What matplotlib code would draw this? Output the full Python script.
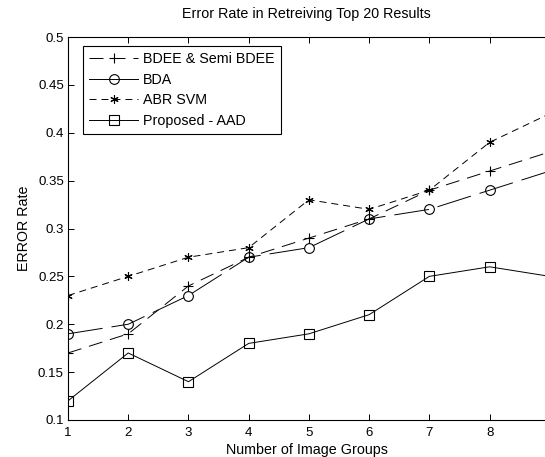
import matplotlib
matplotlib.use("Agg")
import matplotlib.pyplot as plt
from matplotlib.lines import Line2D

plt.rcParams['font.family'] = ['Liberation Sans', 'DejaVu Sans']

groups = [1, 2, 3, 4, 5, 6, 7, 8, 9]
bdee = [0.17, 0.19, 0.24, 0.27, 0.29, 0.31, 0.34, 0.36, 0.38]
bda = [0.19, 0.20, 0.23, 0.27, 0.28, 0.31, 0.32, 0.34, 0.36]
abr = [0.23, 0.25, 0.27, 0.28, 0.33, 0.32, 0.34, 0.39, 0.42]
aad = [0.12, 0.17, 0.14, 0.18, 0.19, 0.21, 0.25, 0.26, 0.25]
labels = ['BDEE & Semi BDEE', 'BDA', 'ABR SVM', 'Proposed - AAD']
xticks = [1, 2, 3, 4, 5, 6, 7, 8]
yticks = [0.1, 0.15, 0.2, 0.25, 0.3, 0.35, 0.4, 0.45, 0.5]
ytick_labels = ['0.1', '0.15', '0.2', '0.25', '0.3', '0.35', '0.4', '0.45', '0.5']

fig = plt.figure(figsize=(5.45, 4.57), dpi=100)
ax = fig.add_axes([68/545, 37/457, 477/545, 383/457])

lw = 0.7
ms = 7
n = len(xticks)
d_bdee = (14.4, 8.2)
d_bda = (36, 9.3)
d_abr = (7.2, 5.1)
ax.plot(groups, bdee, color='black', lw=lw, dashes=d_bdee)
ax.plot(groups[:n], bdee[:n], color='black', lw=0, marker='+', ms=ms, mew=0.8)
ax.plot(groups, bda, color='black', lw=lw, dashes=d_bda)
ax.plot(groups[:n], bda[:n], color='black', lw=0, marker='o', ms=ms, mfc='none', mew=0.8)
ax.plot(groups, abr, color='black', lw=lw, dashes=d_abr)
ax.plot(groups[:n], abr[:n], color='black', lw=0, marker=(6, 2, 0), ms=6, mew=0.8)
ax.plot(groups, aad, color='black', lw=lw)
ax.plot(groups[:n], aad[:n], color='black', lw=0, marker='s', ms=ms, mfc='none', mew=0.8)

ax.set_xlim(1, 8.92)
ax.set_ylim(0.1, 0.5)
ax.set_xticks(xticks)
ax.set_xticklabels([str(v) for v in xticks])
ax.set_yticks(yticks)
ax.set_yticklabels(ytick_labels)
ax.tick_params(direction='in', top=True, right=False, labelsize=9.5, length=4, width=0.7, pad=3)
ax.tick_params(axis='x', pad=5)
ax.spines['right'].set_visible(False)
for s in ['left', 'bottom', 'top']:
    ax.spines[s].set_linewidth(0.8)

ax.set_title('Error Rate in Retreiving Top 20 Results', fontsize=10.3, pad=14)
ax.set_xlabel('Number of Image Groups', fontsize=10.3, labelpad=3)
ax.set_ylabel('ERROR Rate', fontsize=10.3, labelpad=5)

handles = [
    Line2D([], [], color='black', lw=lw, dashes=d_bdee, marker='+', ms=ms, mew=0.8),
    Line2D([], [], color='black', lw=lw, marker='o', ms=ms, mfc='none', mew=0.8),
    Line2D([], [], color='black', lw=lw, dashes=d_abr, marker=(6, 2, 0), ms=6, mew=0.8),
    Line2D([], [], color='black', lw=lw, marker='s', ms=ms, mfc='none', mew=0.8),
]
leg = ax.legend(handles, labels, loc='upper left', bbox_to_anchor=(0.031, 0.977),
                fontsize=10.3, fancybox=False, framealpha=1, edgecolor='black',
                handlelength=3.4, borderpad=0.45, labelspacing=0.45, handletextpad=0.35,
                borderaxespad=0)
leg.get_frame().set_linewidth(0.8)

fig.savefig('out.png', dpi=100)
